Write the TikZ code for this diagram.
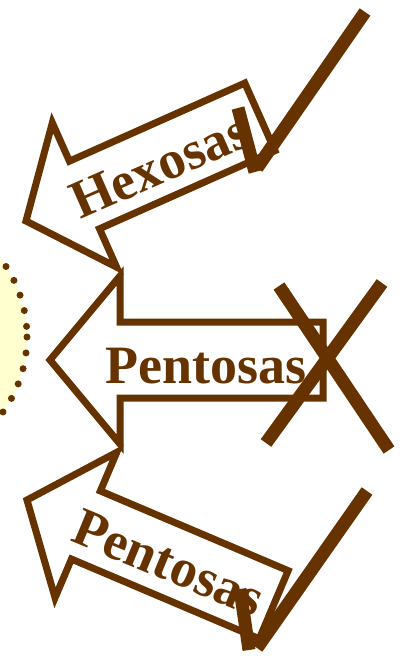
\documentclass[tikz,border=0pt]{standalone}
\usepackage{fontspec}
\setmainfont{Liberation Serif}
\definecolor{brn}{HTML}{663300}
\pgfdeclareradialshading{glow}{\pgfpoint{0bp}{0bp}}{color(0bp)=(yellow!22!white); color(38bp)=(yellow!16!white); color(50bp)=(white)}
\tikzset{
  arrowline/.style={draw=brn, line width=7pt, fill=white, line join=miter},
  lbl/.style={text=brn, font=\fontsize{54}{60}\selectfont\bfseries, inner sep=0pt, anchor=base},
  tickstroke/.style={draw=brn, line width=13pt, line cap=butt}
}
\begin{document}
\begin{tikzpicture}[x=1pt,y=-1pt]
\useasboundingbox (0,0) rectangle (404,656);
% dotted shaded circle
\shade[shading=glow] (-102,337) circle (129);
\draw[brn, line width=7pt, line cap=round, dash pattern=on 0pt off 16pt] (-102,337) circle (129);
% arrows
\begin{scope}[shift={(26,221)}, rotate=24]
  \path[arrowline] (0,0) -- (64,-79) -- (64,-37) -- (256,-37) -- (256,37) -- (64,37) -- (64,79) -- cycle;
\end{scope}
\begin{scope}[shift={(50,360)}]
  \path[arrowline] (0,0) -- (70,-84) -- (70,-38) -- (273,-38) -- (273,38) -- (70,38) -- (70,84) -- cycle;
\end{scope}
\begin{scope}[shift={(27,500)}, rotate=-23]
  \path[arrowline] (0,0) -- (64,-79) -- (64,-37) -- (268,-37) -- (268,37) -- (64,37) -- (64,79) -- cycle;
\end{scope}
% labels
\node[lbl, rotate=23.7] (hex) at (167,182) {Hexosas};
\node[lbl] (pen1) at (206,383) {Pentosas};
\node[lbl, rotate=-22.5] (pen2) at (162,579) {Pentosas};
% check marks and cross
\draw[tickstroke] (238,108) -- (255,172);
\draw[tickstroke] (365,12) -- (257,168);
\draw[tickstroke] (240,589) -- (249,650);
\draw[tickstroke] (367,491) -- (257,648);
\draw[tickstroke] (279,286) -- (389,450);
\draw[tickstroke] (382,283) -- (266,443);
\end{tikzpicture}
\end{document}
